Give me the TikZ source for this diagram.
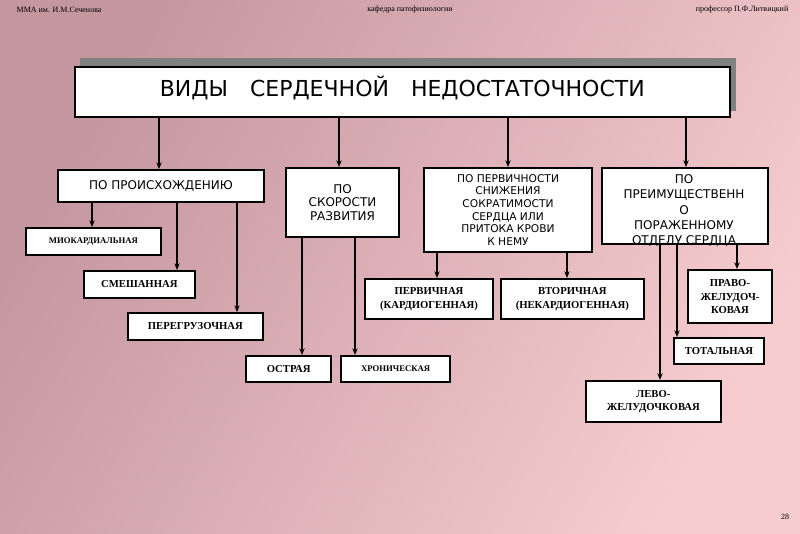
\documentclass[tikz,border=0pt]{standalone}
\usepackage{fontspec}
\setmainfont{Liberation Serif}
\newfontfamily\headsans{DejaVu Sans}
\usetikzlibrary{arrows.meta,positioning,calc}
\definecolor{bgdark}{RGB}{196,150,160}
\definecolor{bglight}{RGB}{246,204,206}
\definecolor{shadowgray}{RGB}{128,128,128}

\begin{document}
\begin{tikzpicture}[x=0.75pt, y=-0.75pt,
    catbox/.style={rectangle, draw=black, line width=1.5pt, fill=white, align=center, font=\headsans\fontsize{9}{10}\selectfont, inner sep=1pt},
    leaf/.style={rectangle, draw=black, line width=1.5pt, fill=white, align=center, font=\bfseries\fontsize{8}{10}\selectfont, inner sep=1pt},
    link/.style={-{Stealth[length=5pt,width=4pt]}, line width=1.2pt}
]
    \shade[left color=bgdark, right color=bglight, shading angle=60] (0,0) rectangle (800,533);
    \useasboundingbox (0,0) rectangle (800,533);

    \node[font=\fontsize{6}{7}\selectfont, anchor=west] (hl) at (12,10) {ММА им. И.М.Сеченова};
    \node[font=\fontsize{6}{7}\selectfont] (hc) at (410,10) {кафедра патофизиологии};
    \node[font=\fontsize{6}{7}\selectfont, anchor=east] (hr) at (793,10) {профессор П.Ф.Литвицкий};
    \node[font=\fontsize{6}{7}\selectfont] (pg) at (785,517) {28};

    % title with shadow
    \fill[shadowgray] (80,58) rectangle (736,111);
    \node[catbox, minimum width=491pt, minimum height=37.5pt, anchor=north west, font=\headsans\fontsize{16.5}{18}\selectfont] (title) at (74,66) {\raisebox{8pt}{ВИДЫ\quad СЕРДЕЧНОЙ\quad НЕДОСТАТОЧНОСТИ}};

    % categories
    \node[catbox, minimum width=154.5pt, minimum height=24pt, anchor=north west] (orig) at (57,169) {ПО ПРОИСХОЖДЕНИЮ};
    \node[catbox, minimum width=84.75pt, minimum height=51.75pt, anchor=north west] (speed) at (285,167) {ПО\\СКОРОСТИ\\РАЗВИТИЯ};
    \node[catbox, minimum width=126pt, minimum height=63pt, anchor=north west, font=\headsans\fontsize{8}{9.5}\selectfont] (prim) at (423,167) {ПО ПЕРВИЧНОСТИ\\СНИЖЕНИЯ\\СОКРАТИМОСТИ\\СЕРДЦА ИЛИ\\ПРИТОКА КРОВИ\\К НЕМУ};
    \node[catbox, minimum width=124.5pt, minimum height=57pt, anchor=north west] (part) at (601,167) {};
    \node[font=\headsans\fontsize{9}{11.5}\selectfont, align=center, anchor=north] (parttext) at (684,170) {ПО\\ПРЕИМУЩЕСТВЕНН\\О\\ПОРАЖЕННОМУ\\ОТДЕЛУ СЕРДЦА};

    % leaves
    \node[leaf, minimum width=101pt, minimum height=20pt, anchor=north west, font=\bfseries\fontsize{6.5}{8}\selectfont] (myo) at (25,227) {МИОКАРДИАЛЬНАЯ};
    \node[leaf, minimum width=83pt, minimum height=20pt, anchor=north west] (mixed) at (83,270) {СМЕШАННАЯ};
    \node[leaf, minimum width=101pt, minimum height=20pt, anchor=north west] (over) at (127,312) {ПЕРЕГРУЗОЧНАЯ};
    \node[leaf, minimum width=64pt, minimum height=19.5pt, anchor=north west] (acute) at (245,355) {ОСТРАЯ};
    \node[leaf, minimum width=82pt, minimum height=19.5pt, anchor=north west, font=\bfseries\fontsize{6.5}{8}\selectfont] (chron) at (340,355) {ХРОНИЧЕСКАЯ};
    \node[leaf, minimum width=96pt, minimum height=30pt, anchor=north west] (first) at (364,278) {ПЕРВИЧНАЯ\\(КАРДИОГЕННАЯ)};
    \node[leaf, minimum width=107pt, minimum height=30pt, anchor=north west] (second) at (500,278) {ВТОРИЧНАЯ\\(НЕКАРДИОГЕННАЯ)};
    \node[leaf, minimum width=63pt, minimum height=40pt, anchor=north west] (right) at (687,269) {ПРАВО-\\ЖЕЛУДОЧ-\\КОВАЯ};
    \node[leaf, minimum width=67.5pt, minimum height=19.5pt, anchor=north west] (total) at (673,337) {ТОТАЛЬНАЯ};
    \node[leaf, minimum width=101pt, minimum height=31pt, anchor=north west] (left) at (585,380) {ЛЕВО-\\ЖЕЛУДОЧКОВАЯ};

    % connectors
    \foreach \px/\target in {159/orig, 339/speed, 508/prim, 686/part}
        \draw[link] (title.south -| {(\px,0)}) -- (\target.north -| {(\px,0)});
    \foreach \px/\target in {92/myo, 177/mixed, 237/over}
        \draw[link] (orig.south -| {(\px,0)}) -- (\target.north -| {(\px,0)});
    \foreach \px/\target in {302/acute, 355/chron}
        \draw[link] (speed.south -| {(\px,0)}) -- (\target.north -| {(\px,0)});
    \foreach \px/\target in {437/first, 567/second}
        \draw[link] (prim.south -| {(\px,0)}) -- (\target.north -| {(\px,0)});
    \foreach \px/\target in {737/right, 677/total, 660/left}
        \draw[link] (part.south -| {(\px,0)}) -- (\target.north -| {(\px,0)});
\end{tikzpicture}
\end{document}
